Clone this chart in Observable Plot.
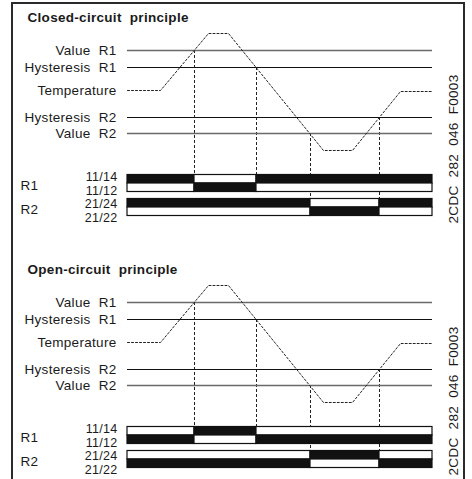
<!DOCTYPE html>
<html>
<head>
<meta charset="utf-8">
<script src="https://cdn.jsdelivr.net/npm/d3@7"></script>
<script src="https://cdn.jsdelivr.net/npm/@observablehq/plot@0.6"></script>
<style>
  html, body { margin: 0; padding: 0; background: #fff; }
  #wrap { position: relative; width: 472px; height: 479px; overflow: hidden; background: #fff; }
  #frame { position: absolute; left: 11px; top: 2px; width: 450px; height: 500px; border: 2px solid #2a2a2a; }
  .panel { position: absolute; left: 0; }
  .panel svg text { letter-spacing: 0.3px; }
</style>
</head>
<body>
<div id="wrap">
  <div id="frame"></div>
  <div id="top" class="panel" style="top:0px"></div>
  <div id="bot" class="panel" style="top:252px"></div>
</div>
<script>
// ---- data ----
const panelTitles = ["Closed-circuit  principle", "Open-circuit  principle"];
const timePoints = [0, 33, 81, 101, 196, 225, 273, 305];
const temperatureValues = [60, 60, 117, 117, 0, 0, 59, 59];
const levelNames = ["Value  R1", "Hysteresis  R1", "Hysteresis  R2", "Value  R2"];
const levelValues = [100, 83, 33, 17];
const levelKinds = ["value", "hyst", "hyst", "value"];
const relayNames = ["R1", "R2"];
const relaySwitchTimes = [[67, 129], [183, 252]];
const relaySwitchLevels = [[100, 83], [17, 33]];
const contactNames = [["11/14", "11/12"], ["21/24", "21/22"]];
// contact state per segment (1 = closed/black) for each principle
const closedPattern = [[1, 0, 1], [0, 1, 0]];
const openPattern = [[0, 1, 0], [1, 0, 1]];
const docCode = "2CDC  282  046  F0003";

const tStart = timePoints[0], tEnd = timePoints[timePoints.length - 1];
const font = "'Liberation Sans', Arial, Helvetica, sans-serif";

function buildPanel(title, pattern, height) {
  const temperature = timePoints.map((t, i) => ({t, v: temperatureValues[i]}));
  const levels = levelNames.map((name, i) => ({name, v: levelValues[i], kind: levelKinds[i]}));

  // relay row layout (in level units)
  const rowH = 8.5;
  const pairTop = ri => -24.5 - ri * 24;

  const segments = [];
  const contactLabels = [];
  const relayLabels = [];
  const switches = [];
  relayNames.forEach((r, ri) => {
    const edges = [tStart, ...relaySwitchTimes[ri], tEnd];
    const top = pairTop(ri);
    const center = top - rowH;
    relayLabels.push({name: r, y: center - 2.5});
    contactNames[ri].forEach((c, k) => {
      const y1 = top - k * rowH, y2 = y1 - rowH;
      const shift = ri === 0 ? -0.5 : -3.5;
      contactLabels.push({name: c, y: center + shift + (k === 0 ? 6.75 : -6.75)});
      for (let j = 0; j < 3; j++) {
        segments.push({x1: edges[j], x2: edges[j + 1], y1, y2, on: pattern[k][j]});
      }
    });
    relaySwitchTimes[ri].forEach((t, j) => {
      switches.push({t, from: relaySwitchLevels[ri][j], to: top - 2 * rowH});
    });
  });

  return Plot.plot({
    width: 472,
    height,
    margin: 0,
    x: {domain: [tStart, tEnd], range: [127, 432], axis: null},
    y: {domain: [0, 118], range: [150, 32], axis: null},
    style: {fontFamily: font, fontSize: "13.5px", color: "#1a1a1a", background: "transparent", overflow: "visible"},
    marks: [
      Plot.text([title], {frameAnchor: "top-left", dx: 27, dy: 17, text: d => d, textAnchor: "start", lineAnchor: "middle", fontWeight: "bold", fontSize: 13.5}),
      Plot.ruleX(switches, {x: "t", y1: "from", y2: "to", stroke: "#222", strokeWidth: 1, strokeDasharray: "3,2"}),
      Plot.ruleY(levels, {y: "v", x1: tStart, x2: tEnd, stroke: d => d.kind === "value" ? "#6a6a6a" : "#111", strokeWidth: d => d.kind === "value" ? 1.4 : 1.1}),
      Plot.text(levels, {x: tStart, y: "v", text: "name", textAnchor: "end", dx: -11, lineAnchor: "middle"}),
      Plot.line(temperature, {x: "t", y: "v", stroke: "#222", strokeWidth: 1, strokeDasharray: "2,2"}),
      Plot.text(["Temperature"], {x: tStart, y: temperatureValues[0], text: d => d, textAnchor: "end", dx: -11, lineAnchor: "middle"}),
      Plot.rect(segments, {x1: "x1", x2: "x2", y1: "y1", y2: "y2", fill: d => d.on ? "#111" : "#fff", stroke: "#111", strokeWidth: 1.2}),
      Plot.text(contactLabels, {x: tStart, y: "y", text: "name", textAnchor: "end", dx: -10, lineAnchor: "middle", fontSize: 12.5}),
      Plot.text(relayLabels, {frameAnchor: "left", y: "y", text: "name", textAnchor: "start", dx: 20, lineAnchor: "middle"}),
      Plot.text([docCode], {frameAnchor: "top-right", dx: -19, dy: 148.5, text: d => d, rotate: -90, textAnchor: "middle", lineAnchor: "middle"})
    ]
  });
}

document.getElementById("top").append(buildPanel(panelTitles[0], closedPattern, 252));
document.getElementById("bot").append(buildPanel(panelTitles[1], openPattern, 227));
</script>
</body>
</html>
